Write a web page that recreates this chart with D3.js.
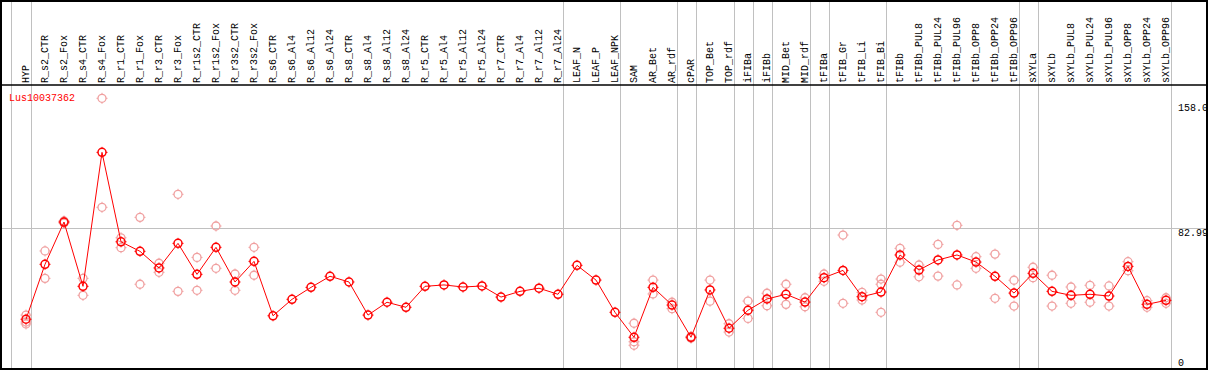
<!DOCTYPE html>
<html>
<head>
<meta charset="utf-8">
<script src="https://cdn.jsdelivr.net/npm/d3@7"></script>
<style>
  body { margin: 0; background: #fff; }
  svg { display: block; }
  text { font-family: "Liberation Mono", "DejaVu Sans Mono", monospace; font-size: 10px; }
</style>
</head>
<body>
<svg id="chart" width="1209" height="370"></svg>
<script>
// categories (columns), in order
const categories = ["HYP",
  "R_s2_CTR","R_s2_Fox","R_s4_CTR","R_s4_Fox","R_r1_CTR","R_r1_Fox","R_r3_CTR","R_r3_Fox",
  "R_r1s2_CTR","R_r1s2_Fox","R_r3s2_CTR","R_r3s2_Fox","R_s6_CTR","R_s6_Al4","R_s6_Al12","R_s6_Al24",
  "R_s8_CTR","R_s8_Al4","R_s8_Al12","R_s8_Al24","R_r5_CTR","R_r5_Al4","R_r5_Al12","R_r5_Al24",
  "R_r7_CTR","R_r7_Al4","R_r7_Al12","R_r7_Al24",
  "LEAF_N","LEAF_P","LEAF_NPK",
  "SAM","AR_Bet","AR_rdf",
  "cPAR",
  "TOP_Bet","TOP_rdf",
  "iFIBa",
  "iFIBb",
  "MID_Bet","MID_rdf",
  "tFIBa",
  "tFIB_Gr","tFIB_Li","tFIB_Bi",
  "tFIBb","tFIBb_PUL8","tFIBb_PUL24","tFIBb_PUL96","tFIBb_OPP8","tFIBb_OPP24","tFIBb_OPP96",
  "sXYLa",
  "sXYLb","sXYLb_PUL8","sXYLb_PUL24","sXYLb_PUL96","sXYLb_OPP8","sXYLb_OPP24","sXYLb_OPP96"];

// last category of each group (separators drawn after them)
const groupEnds = ["HYP","R_r7_Al24","LEAF_NPK","AR_rdf","cPAR","TOP_rdf","iFIBa","iFIBb",
  "MID_rdf","tFIBa","tFIB_Bi","tFIBb_OPP96","sXYLa","sXYLb_OPP96"];

// mean expression per category
const means = [30.5,
  62.2,86.6,49.5,126.8,75.2,69.7,60.1,74.3,
  56.4,72.0,52.0,63.9,32.5,42.0,48.9,55.3,
  52.0,32.9,40.3,37.4,49.5,50.3,49.1,49.7,
  43.3,46.6,48.4,44.9,
  61.6,53.1,34.5,
  20.1,48.9,38.7,
  20.1,
  47.4,25.3,
  35.7,
  42.2,
  44.9,40.4,
  54.5,
  58.7,43.5,46.2,
  67.6,58.9,64.7,67.6,63.5,55.3,45.6,
  57.0,
  46.6,44.3,44.9,43.9,61.0,39.1,41.4];

// replicate values per category
const replicates = [[32.9,28.9,27.8],
  [69.9,54.1],[87.2,86.0],[54.1,44.3],[158.0,95.1],[77.5,71.8],[89.3,50.7],[62.8,57.6],[102.6,46.6],
  [66.2,47.2],[84.3,59.9],[56.6,47.2],[72.0,55.9],[],[],[],[],
  [],[],[],[],[],[],[],[],
  [],[],[],[],
  [],[],[],
  [28.2,17.5,15.5],[53.1,45.1],[40.3,36.6],
  [19.6,20.6],
  [53.1,40.9],[27.9,23.1],
  [41.0,31.0],
  [45.5,38.3],
  [50.7,39.1],[42.9,37.7],
  [56.6,52.4],
  [79.1,39.7],[46.0,41.6],[53.7,50.7,34.5],
  [71.4,63.4],[61.8,55.0],[73.7,55.4],[84.7,50.3],[66.6,59.9],[68.1,42.6],[53.0,38.1],
  [60.5,54.5],
  [55.9,38.1],[49.1,39.7],[50.1,40.3],[49.7,38.1],[63.7,58.5],[41.2,37.4],[42.9,39.7]];

const yTicks = [158.0, 82.99, 0];
const yTickLabels = ["158.0", "82.99", "0"];
const geneName = "Lus10037362";

const W = 1209, H = 370;
const frame = {left: 1, right: 1207, top: 1, bottom: 369};
const headerBottom = 85;

const svg = d3.select("#chart");

const x = d3.scalePoint()
  .domain(categories)
  .range([26, 1166]);
const step = x.step();

const y = d3.scaleLinear()
  .domain([0, 158])
  .range([372.1, 98.3]);

svg.append("clipPath").attr("id", "clip")
  .append("rect")
  .attr("x", frame.left).attr("y", frame.top)
  .attr("width", frame.right - frame.left).attr("height", frame.bottom - frame.top);

const g = svg.append("g").attr("clip-path", "url(#clip)");

// horizontal reference line
g.append("line")
  .attr("x1", frame.left).attr("x2", frame.right)
  .attr("y1", Math.round(y(82.99)) + 0.5).attr("y2", Math.round(y(82.99)) + 0.5)
  .attr("stroke", "#c0c0c0");

// group separators
const sepX = [x(categories[0]) - step + 3.7].concat(groupEnds.map(c => x(c) + 4.7));
g.selectAll(".sep")
  .data(sepX)
  .enter().append("line")
  .attr("class", "sep")
  .attr("x1", d => Math.round(d) + 0.5).attr("x2", d => Math.round(d) + 0.5)
  .attr("y1", 0).attr("y2", H)
  .attr("stroke", "#c0c0c0");

// column labels
g.selectAll(".lab")
  .data(categories)
  .enter().append("text")
  .attr("class", "lab")
  .attr("transform", d => `translate(${Math.round(x(d)) + 3},83) rotate(-90)`)
  .attr("fill", "#000")
  .text(d => d);

// y tick labels
g.selectAll(".ytick")
  .data(yTicks)
  .enter().append("text")
  .attr("class", "ytick")
  .attr("x", 1178)
  .attr("y", (d, i) => Math.max(headerBottom + 26, Math.min(frame.bottom - 3, y(d) + 8)))
  .attr("fill", "#000")
  .text((d, i) => yTickLabels[i]);

// gene name
g.append("text")
  .attr("x", 9).attr("y", 101)
  .attr("fill", "#ff0000")
  .text(geneName);

// marker with little ticks
function marker(sel, color, sw) {
  sel.append("circle")
    .attr("r", 4)
    .attr("fill", "none")
    .attr("stroke", color)
    .attr("stroke-width", sw);
  sel.append("path")
    .attr("d", "M0,-5.5V-4M0,4V5.5M-5.5,0H-4M4,0H5.5")
    .attr("stroke", color)
    .attr("stroke-width", 1);
}

// replicate points
const repPts = [];
categories.forEach((c, i) => replicates[i].forEach(v => repPts.push({c: c, v: v})));
g.selectAll(".rep")
  .data(repPts)
  .enter().append("g")
  .attr("class", "rep")
  .attr("transform", d => `translate(${x(d.c)},${y(d.v)})`)
  .call(marker, "#f0a0a0", 1.3);

// mean line
const line = d3.line()
  .x((d, i) => x(categories[i]))
  .y(d => y(d));
g.append("path")
  .datum(means)
  .attr("d", line)
  .attr("fill", "none")
  .attr("stroke", "#ff0000")
  .attr("stroke-width", 1);

g.selectAll(".mean")
  .data(means)
  .enter().append("g")
  .attr("class", "mean")
  .attr("transform", (d, i) => `translate(${x(categories[i])},${y(d)})`)
  .call(marker, "#ff0000", 1.5);

// frame
svg.append("rect")
  .attr("x", frame.left).attr("y", frame.top)
  .attr("width", frame.right - frame.left).attr("height", frame.bottom - frame.top)
  .attr("fill", "none").attr("stroke", "#000").attr("stroke-width", 2);
svg.append("line")
  .attr("x1", frame.left).attr("x2", frame.right)
  .attr("y1", headerBottom).attr("y2", headerBottom)
  .attr("stroke", "#000").attr("stroke-width", 1.5);
</script>
</body>
</html>
